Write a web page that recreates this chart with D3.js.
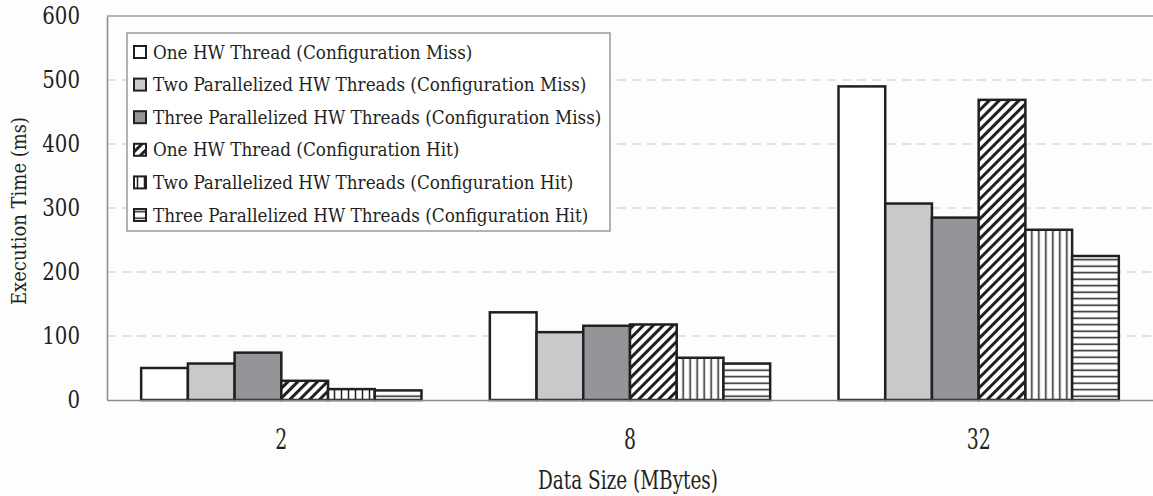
<!DOCTYPE html>
<html>
<head>
<meta charset="utf-8">
<script src="https://cdn.jsdelivr.net/npm/d3@7"></script>
<style>
  body { margin: 0; background: #fdfdfd; }
</style>
</head>
<body>
<div id="chart"></div>
<script>
// data
const sizes = ["2", "8", "32"];
const seriesNames = [
  "One HW Thread (Configuration Miss)",
  "Two Parallelized HW Threads (Configuration Miss)",
  "Three Parallelized HW Threads (Configuration Miss)",
  "One HW Thread (Configuration Hit)",
  "Two Parallelized HW Threads (Configuration Hit)",
  "Three Parallelized HW Threads (Configuration Hit)"
];
const oneMiss   = [50, 137, 490];
const twoMiss   = [57, 106, 307];
const threeMiss = [74, 116, 285];
const oneHit    = [30, 118, 469];
const twoHit    = [17, 66, 266];
const threeHit  = [15, 57, 225];
const yTicks = [0, 100, 200, 300, 400, 500, 600];

const series = [oneMiss, twoMiss, threeMiss, oneHit, twoHit, threeHit];
const fills = ["#ffffff", "#c8c9cb", "#939598", "url(#diag)", "url(#vert)", "url(#horiz)"];
const serif = "'DejaVu Serif Condensed', 'DejaVu Serif', serif";

const W = 1153, H = 496;
const margin = {top: 16, right: 0, bottom: 96, left: 107},
    width = W - margin.left - margin.right,
    height = H - margin.top - margin.bottom;

const root = d3.select("#chart").append("svg")
    .attr("width", W)
    .attr("height", H);

// hatch patterns
const defs = root.append("defs");
defs.append("pattern")
    .attr("id", "diag")
    .attr("patternUnits", "userSpaceOnUse")
    .attr("width", 7).attr("height", 7)
    .attr("patternTransform", "rotate(45)")
  .call(p => {
    p.append("rect").attr("width", 7).attr("height", 7).attr("fill", "#fff");
    p.append("line").attr("x1", 1.5).attr("x2", 1.5).attr("y1", 0).attr("y2", 7)
      .attr("stroke", "#231f20").attr("stroke-width", 3);
  });
defs.append("pattern")
    .attr("id", "vert")
    .attr("patternUnits", "userSpaceOnUse")
    .attr("width", 7).attr("height", 7)
  .call(p => {
    p.append("rect").attr("width", 7).attr("height", 7).attr("fill", "#fff");
    p.append("line").attr("x1", 3.5).attr("x2", 3.5).attr("y1", 0).attr("y2", 7)
      .attr("stroke", "#231f20").attr("stroke-width", 1.5);
  });
defs.append("pattern")
    .attr("id", "horiz")
    .attr("patternUnits", "userSpaceOnUse")
    .attr("width", 7).attr("height", 6.5)
  .call(p => {
    p.append("rect").attr("width", 7).attr("height", 6.5).attr("fill", "#fff");
    p.append("line").attr("x1", 0).attr("x2", 7).attr("y1", 3.2).attr("y2", 3.2)
      .attr("stroke", "#231f20").attr("stroke-width", 1.5);
  });

const svg = root.append("g")
    .attr("transform", `translate(${margin.left},${margin.top})`);

// scales
const x = d3.scaleBand()
    .domain(sizes)
    .range([0, width]);

const x1 = d3.scaleBand()
    .domain(d3.range(series.length))
    .range([x.bandwidth() * 0.098, x.bandwidth() * 0.902]);

const y = d3.scaleLinear()
    .domain([0, 600])
    .range([height, 0]);

// dashed grid
svg.append("g")
  .selectAll("line")
  .data(yTicks.filter(t => t > 0 && t < 600))
  .join("line")
    .attr("x1", 0).attr("x2", width)
    .attr("y1", d => y(d)).attr("y2", d => y(d))
    .attr("stroke", "#c8c8c8")
    .attr("stroke-width", 1.2)
    .attr("stroke-dasharray", "9,6");

// top border
svg.append("line")
    .attr("x1", 0).attr("x2", width)
    .attr("y1", 0).attr("y2", 0)
    .attr("stroke", "#9a9a9a").attr("stroke-width", 1.5);

// bars
const groups = svg.selectAll("g.grp")
  .data(sizes)
  .join("g")
    .attr("class", "grp")
    .attr("transform", d => `translate(${x(d)},0)`);

groups.selectAll("rect")
  .data((d, i) => series.map((s, k) => ({k: k, v: s[i]})))
  .join("rect")
    .attr("x", d => x1(d.k))
    .attr("width", x1.bandwidth())
    .attr("y", d => y(d.v))
    .attr("height", d => y(0) - y(d.v))
    .attr("fill", d => fills[d.k])
    .attr("stroke", "#231f20")
    .attr("stroke-width", 2.5);

// Y axis
const yAxis = svg.append("g")
    .call(d3.axisLeft(y).tickValues(yTicks).tickSize(0).tickPadding(27));
yAxis.attr("font-family", null);
yAxis.select(".domain").attr("stroke", "#8a8a8a").attr("stroke-width", 1.5);
yAxis.selectAll("text")
    .style("font-family", serif)
    .style("font-size", "22px")
    .attr("transform", "scale(1,1.12)")
    .attr("fill", "#231f20");

// X axis
const xAxis = svg.append("g")
    .attr("transform", `translate(0, ${height})`)
    .call(d3.axisBottom(x).tickSize(0).tickPadding(0));
xAxis.attr("font-family", null);
xAxis.select(".domain").attr("stroke", "#8a8a8a").attr("stroke-width", 1.5);
xAxis.selectAll("text")
    .style("font-family", serif)
    .style("font-size", "21px")
    .attr("dy", 0)
    .attr("transform", "translate(0,49) scale(1,1.3)")
    .attr("fill", "#231f20");

// axis titles
root.append("text")
    .attr("transform", `translate(${margin.left + width / 2 - 2}, 489) scale(1,1.3)`)
    .style("font-family", serif)
    .style("text-anchor", "middle")
    .style("font-size", "20.5px")
    .attr("fill", "#231f20")
    .text("Data Size (MBytes)");

root.append("text")
    .attr("transform", "translate(26, 211) rotate(-90)")
    .style("font-family", serif)
    .style("text-anchor", "middle")
    .style("font-size", "20px")
    .attr("fill", "#231f20")
    .text("Execution Time (ms)");

// legend
const legend = root.append("g")
    .attr("transform", "translate(127,33)");
legend.append("rect")
    .attr("width", 483).attr("height", 198)
    .attr("fill", "#fff")
    .attr("stroke", "#9a9a9a").attr("stroke-width", 1.5);

const items = legend.selectAll("g.item")
  .data(seriesNames)
  .join("g")
    .attr("class", "item")
    .attr("transform", (d, i) => `translate(7, ${19 + i * 32.6})`);
items.append("rect")
    .attr("x", 0).attr("y", -6)
    .attr("width", 12).attr("height", 12)
    .attr("fill", (d, i) => fills[i])
    .attr("stroke", "#231f20").attr("stroke-width", 2);
items.append("text")
    .attr("x", 19).attr("y", 6.5)
    .style("font-family", serif)
    .style("font-size", "18.7px")
    .attr("fill", "#231f20")
    .text(d => d);
</script>
</body>
</html>
